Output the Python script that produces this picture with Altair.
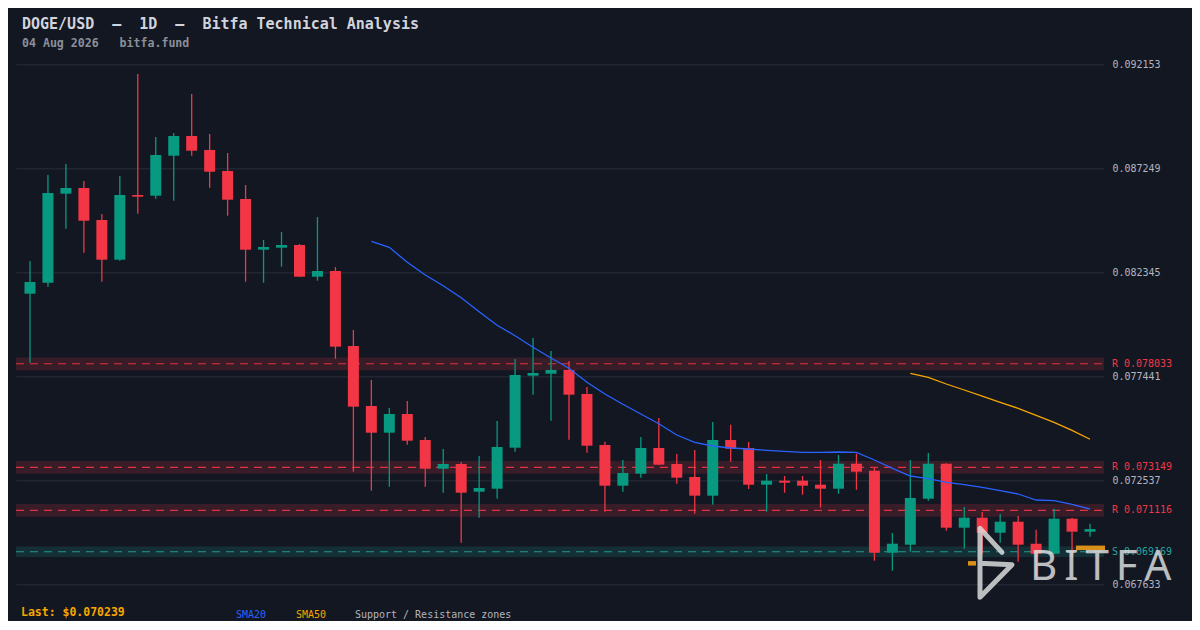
import altair as alt
import pandas as pd

# ---------------- data ----------------
opens = [0.081337, 0.081856, 0.086053, 0.086321, 0.084813, 0.082941, 0.085991, 0.085958, 0.087844, 0.088774,
         0.088113, 0.087123, 0.085803, 0.083412, 0.083506, 0.083634, 0.082139, 0.082408, 0.078871, 0.076042,
         0.074783, 0.075665, 0.074439, 0.073085, 0.073307, 0.072001, 0.072142, 0.074076, 0.077471, 0.077565,
         0.077739, 0.076608, 0.074203, 0.072284, 0.072850, 0.074061, 0.073307, 0.072694, 0.071813, 0.074439,
         0.074061, 0.072331, 0.072520, 0.072520, 0.072331, 0.072142, 0.073321, 0.072991, 0.069124, 0.069502,
         0.071671, 0.073321, 0.070303, 0.070775, 0.070068, 0.070586, 0.069549, 0.069077, 0.070728, 0.070115]
highs = [0.082879, 0.086934, 0.087453, 0.086651, 0.085095, 0.086887, 0.091697, 0.088726, 0.088915, 0.090754,
         0.088868, 0.087972, 0.086463, 0.083870, 0.084247, 0.083681, 0.084954, 0.082596, 0.079626, 0.077268,
         0.075948, 0.076278, 0.074580, 0.074014, 0.073401, 0.073684, 0.075335, 0.078258, 0.079248, 0.078635,
         0.078164, 0.076938, 0.074359, 0.073496, 0.074580, 0.075476, 0.073779, 0.073967, 0.075287, 0.075160,
         0.074344, 0.072835, 0.072741, 0.072741, 0.073496, 0.073731, 0.073792, 0.073132, 0.070053, 0.073496,
         0.073826, 0.073340, 0.071279, 0.071044, 0.070949, 0.070855, 0.070209, 0.071199, 0.070775, 0.070492]
lows = [0.078084, 0.081667, 0.084402, 0.083271, 0.081903, 0.082893, 0.085110, 0.085817, 0.085723, 0.087844,
        0.086336, 0.085015, 0.081903, 0.081856, 0.082610, 0.082120, 0.081950, 0.078272, 0.072944, 0.072048,
        0.072236, 0.074217, 0.072236, 0.071954, 0.069596, 0.070775, 0.071671, 0.073887, 0.076575, 0.075349,
        0.074453, 0.073840, 0.071058, 0.072001, 0.072661, 0.073255, 0.072378, 0.070964, 0.071388, 0.073415,
        0.072128, 0.071058, 0.071954, 0.071859, 0.071246, 0.071906, 0.072095, 0.068747, 0.068276, 0.069172,
        0.071577, 0.070162, 0.069313, 0.069077, 0.069596, 0.068700, 0.067993, 0.069050, 0.068936, 0.069879]
closes = [0.081889, 0.086086, 0.086321, 0.084780, 0.082941, 0.085991, 0.085911, 0.087877, 0.088774, 0.088080,
          0.087090, 0.085770, 0.083412, 0.083539, 0.083634, 0.082139, 0.082408, 0.078838, 0.076009, 0.074783,
          0.075665, 0.074406, 0.073085, 0.073307, 0.071954, 0.072175, 0.074109, 0.077504, 0.077598, 0.077739,
          0.076575, 0.074170, 0.072284, 0.072883, 0.074061, 0.073274, 0.072661, 0.071813, 0.074439, 0.074028,
          0.072331, 0.072520, 0.072425, 0.072284, 0.072142, 0.073321, 0.072944, 0.069124, 0.069549, 0.071704,
          0.073321, 0.070303, 0.070775, 0.070068, 0.070586, 0.069502, 0.069077, 0.070728, 0.070115, 0.070239]

sma20_start = 19
sma20 = [0.083808, 0.083525, 0.082818, 0.082219, 0.081715, 0.081149, 0.080489, 0.079847, 0.079357, 0.078810,
         0.078305, 0.077820, 0.077159, 0.076608, 0.076122, 0.075665, 0.075207, 0.074674, 0.074330, 0.074156,
         0.074061, 0.074014, 0.073953, 0.073906, 0.073859, 0.073859, 0.073873, 0.073859, 0.073496, 0.073104,
         0.072741, 0.072614, 0.072444, 0.072331, 0.072208, 0.072048, 0.071892, 0.071609, 0.071576, 0.071407,
         0.071185]
sma50_start = 49
sma50 = [0.077584, 0.077395, 0.077079, 0.076796, 0.076513, 0.076216, 0.075933, 0.075603, 0.075273, 0.074896,
         0.074472]

tick_values = [0.067633, 0.072537, 0.077441, 0.082345, 0.087249, 0.092153]

zone_levels = [0.078033, 0.073149, 0.071116, 0.069169]
zone_kinds = ["R", "R", "R", "S"]
zone_half = [0.00030, 0.00030, 0.00030, 0.00025]

NB = "\u00a0"
title_text = f"DOGE/USD{NB*2}–{NB*2}1D{NB*2}–{NB*2}Bitfa Technical Analysis"
subtitle_text = f"04 Aug 2026{NB*3}bitfa.fund"
last_text = "Last: $0.070239"
legend_items = ["SMA20", "SMA50", "Support / Resistance zones"]
watermark_text = "\u2009".join("BITFA")

# ---------------- styling ----------------
BG = "#131722"
GREEN = "#089981"
RED = "#f23645"
TEAL = "#26a69a"
BLUE = "#2962ff"
ORANGE = "#f7a600"
GRID = "#2a2e39"
MONO = "DejaVu Sans Mono"
W, H = 1088, 520

n = len(opens)
df = pd.DataFrame({"idx": list(range(n)), "open": opens, "high": highs, "low": lows, "close": closes})
df["top"] = df[["open", "close"]].max(axis=1)
df["bot"] = df[["open", "close"]].min(axis=1)

s20 = pd.DataFrame({"idx": list(range(sma20_start, sma20_start + len(sma20))), "v": sma20})
s50 = pd.DataFrame({"idx": list(range(sma50_start, sma50_start + len(sma50))), "v": sma50})

zdf = pd.DataFrame({"level": zone_levels, "kind": zone_kinds, "half": zone_half})
zdf["lo"] = zdf["level"] - zdf["half"]
zdf["hi"] = zdf["level"] + zdf["half"]
zdf["label"] = [f"{k} {v:.6f}" for k, v in zip(zone_kinds, zone_levels)]

xscale = alt.Scale(domain=[-0.5, n - 0.5], nice=False, zero=False)
yscale = alt.Scale(domain=[tick_values[0], tick_values[-1]], nice=False, zero=False)

candle_color = alt.condition("datum.close >= datum.open", alt.value(GREEN), alt.value(RED))
zone_color = alt.condition("datum.kind == 'R'", alt.value(RED), alt.value(TEAL))

yaxis = alt.Axis(orient="right", values=tick_values, format=".6f", grid=True, gridColor=GRID,
                 gridWidth=1, domain=False, ticks=False, labelColor="#b2b5be", labelFont=MONO,
                 labelFontSize=10, labelPadding=8, title=None, labelOverlap=False)


def Y(field):
    return alt.Y(field, scale=yscale, axis=yaxis)


X = alt.X("idx:Q", scale=xscale, axis=None)

zone_rect = alt.Chart(zdf).mark_rect(opacity=0.17).encode(
    x=alt.value(0), x2=alt.value(W), y=Y("lo:Q"), y2="hi:Q", color=zone_color)

zone_line = alt.Chart(zdf).mark_rule(strokeDash=[8, 6], strokeWidth=1.2, opacity=0.9).encode(
    x=alt.value(0), x2=alt.value(W), y=Y("level:Q"), color=zone_color)

zone_label = alt.Chart(zdf).mark_text(align="left", baseline="middle", font=MONO, fontSize=10).encode(
    x=alt.value(W + 8), y=Y("level:Q"), text="label:N", color=zone_color)

sma20_line = alt.Chart(s20).mark_line(color=BLUE, strokeWidth=1.3).encode(x=X, y=Y("v:Q"))
sma50_line = alt.Chart(s50).mark_line(color=ORANGE, strokeWidth=1.3).encode(x=X, y=Y("v:Q"))

wicks = alt.Chart(df).mark_rule(strokeWidth=1.3).encode(
    x=X, y=Y("low:Q"), y2="high:Q", color=candle_color)

bodies = alt.Chart(df).mark_bar(size=11).encode(
    x=X, y=Y("bot:Q"), y2="top:Q", color=candle_color)


def label(text, x, y, color, size, weight="normal", font=MONO, align="left", opacity=1.0):
    return alt.Chart(pd.DataFrame({"t": [text]})).mark_text(
        align=align, baseline="middle", font=font, fontSize=size, fontWeight=weight,
        color=color, opacity=opacity).encode(
        x=alt.value(x), y=alt.value(y), text="t:N")


title = label(title_text, 6, -40, "#d1d4dc", 15, "bold")
subtitle = label(subtitle_text, 6, -20, "#8b8f9a", 11.6, "bold")
last = label(last_text, 5, 549, ORANGE, 11.5, "bold")
leg1 = label(legend_items[0], 220, 551, BLUE, 10)
leg2 = label(legend_items[1], 280, 551, ORANGE, 10)
leg3 = label(legend_items[2], 339, 551, "#b2b5be", 10)

# ---------------- watermark (decoration, pixel-placed) ----------------
wm_text = label(watermark_text, 1014, 503, "#e2e2e2", 42, "normal", "Noto Sans", opacity=0.82)
icon_path = pd.DataFrame({"px": [986, 964, 964, 996, 964], "py": [488, 464, 533, 500.5, 499], "o": [0, 1, 2, 3, 4]})
wm_icon = alt.Chart(icon_path).mark_line(color="#e2e2e2", strokeWidth=5, opacity=0.82,
                                         strokeCap="round", strokeJoin="round").encode(
    x=alt.X("px:Q", scale=None), y=alt.Y("py:Q", scale=None), order="o:Q")
wm_bar1 = alt.Chart(pd.DataFrame({"a": [0]})).mark_rule(color="#d9901a", strokeWidth=4.5).encode(
    x=alt.value(1060), x2=alt.value(1089), y=alt.value(483.5))
wm_bar2 = alt.Chart(pd.DataFrame({"a": [0]})).mark_rule(color="#d9901a", strokeWidth=4.5).encode(
    x=alt.value(952), x2=alt.value(960), y=alt.value(499))

chart = alt.layer(
    zone_rect, zone_line, wicks, bodies, sma20_line, sma50_line, zone_label,
    title, subtitle, last, leg1, leg2, leg3,
    wm_bar1, wm_bar2, wm_icon, wm_text,
).properties(
    width=W, height=H,
    padding={"left": 8, "top": 56.33, "right": 88, "bottom": 37},
    autosize=alt.AutoSizeParams(type="none"),
    background=BG,
).configure_view(stroke=None)

chart.save("out.html", embed_options={"renderer": "svg", "actions": False})
